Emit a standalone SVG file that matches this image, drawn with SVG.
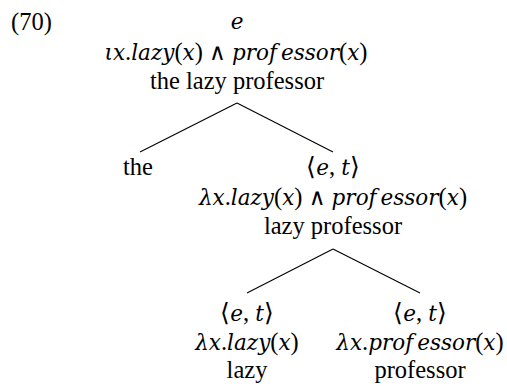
<svg xmlns="http://www.w3.org/2000/svg" width="507" height="386" viewBox="0 0 507 386">
<style>
text{font-family:"Liberation Serif","Times New Roman",serif;font-size:24.5px;fill:#000;text-anchor:middle}
.i{font-family:"DejaVu Serif",serif;font-style:italic;font-size:21.5px}
.w{font-family:"DejaVu Serif",serif;font-size:23px}
.lbl{text-anchor:start}
line{stroke:#000;stroke-width:1.1}
</style>
<rect width="507" height="386" fill="#fff"/>
<text class="lbl" x="11" y="30">(70)</text>
<g id="connectors">
<line x1="237" y1="103" x2="140" y2="152"/>
<line x1="237" y1="103" x2="333" y2="152"/>
<line x1="333" y1="249" x2="247" y2="293"/>
<line x1="333" y1="249" x2="420" y2="293"/>
</g>
<g id="root">
<text x="237" y="29" class="i">e</text>
<text x="236" y="60"><tspan class="i">ιx</tspan>.<tspan class="i">lazy</tspan>(<tspan class="i">x</tspan>) <tspan class="w">∧</tspan> <tspan class="i">prof</tspan><tspan class="i" dx="4">essor</tspan>(<tspan class="i">x</tspan>)</text>
<text x="237" y="89">the lazy professor</text>
</g>
<g id="the">
<text x="138" y="175">the</text>
</g>
<g id="lazyprofessor">
<text x="333" y="175">⟨<tspan class="i">e</tspan>, <tspan class="i">t</tspan>⟩</text>
<text x="333" y="205"><tspan class="i">λx</tspan>.<tspan class="i">lazy</tspan>(<tspan class="i">x</tspan>) <tspan class="w">∧</tspan> <tspan class="i">prof</tspan><tspan class="i" dx="4">essor</tspan>(<tspan class="i">x</tspan>)</text>
<text x="333" y="234">lazy professor</text>
</g>
<g id="lazy">
<text x="247" y="321">⟨<tspan class="i">e</tspan>, <tspan class="i">t</tspan>⟩</text>
<text x="247" y="350"><tspan class="i">λx</tspan>.<tspan class="i">lazy</tspan>(<tspan class="i">x</tspan>)</text>
<text x="247" y="378">lazy</text>
</g>
<g id="professor">
<text x="420" y="321">⟨<tspan class="i">e</tspan>, <tspan class="i">t</tspan>⟩</text>
<text x="420" y="350"><tspan class="i">λx</tspan>.<tspan class="i">prof</tspan><tspan class="i" dx="4">essor</tspan>(<tspan class="i">x</tspan>)</text>
<text x="420" y="378">professor</text>
</g>
</svg>
